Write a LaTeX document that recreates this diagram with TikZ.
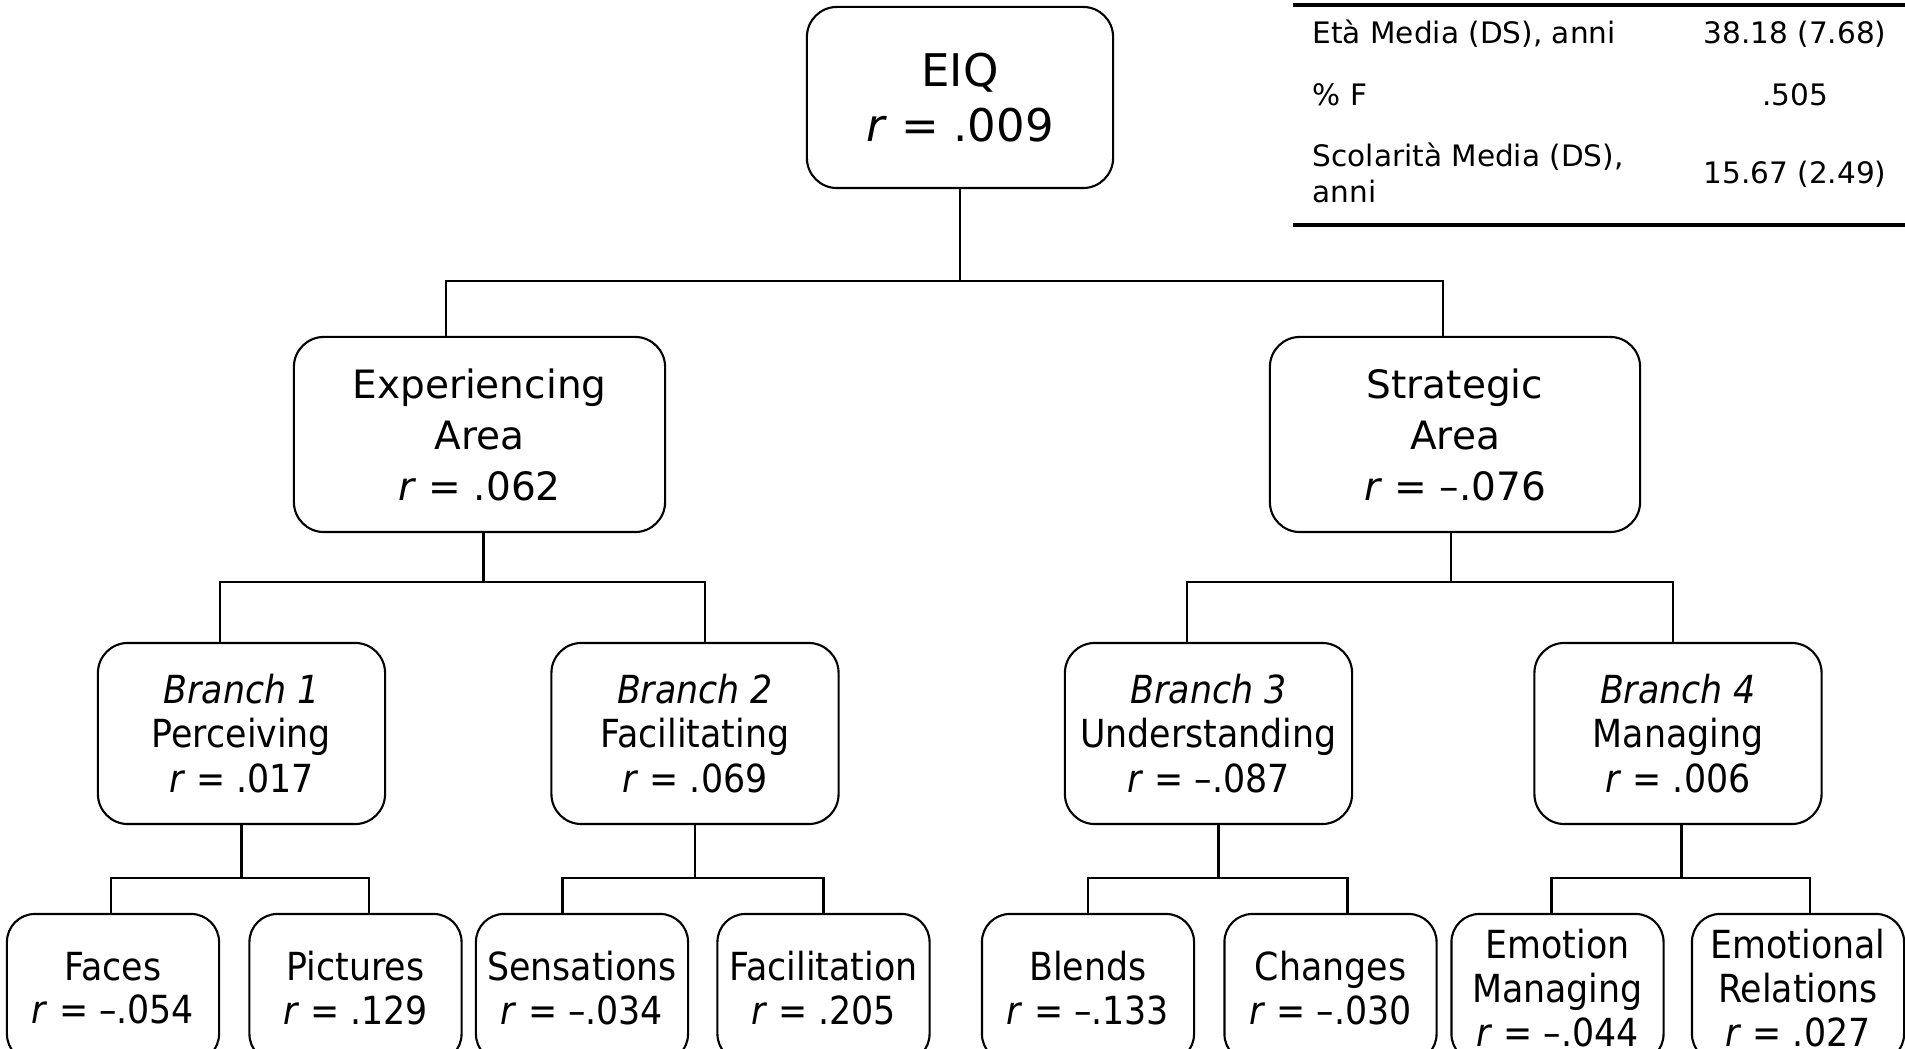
\documentclass[tikz,border=0pt]{standalone}
\usepackage{fontspec}
\setmainfont{DejaVu Sans}
\newfontfamily\cond{DejaVu Sans Condensed}
\usetikzlibrary{calc}
\tikzset{
  box/.style={draw, line width=0.6pt, rounded corners=0.3cm, align=center, inner sep=0pt, anchor=center},
  topbox/.style={box, font=\fontsize{12.8}{15.6}\selectfont},
  areabox/.style={box, font=\fontsize{11.1}{14.5}\selectfont},
  brbox/.style={box, rounded corners=0.3cm, font=\cond\fontsize{11}{12.6}\selectfont, minimum width=2.87cm, minimum height=1.81cm},
  leafbox/.style={box, rounded corners=0.28cm, font=\cond\fontsize{11}{12.4}\selectfont, minimum width=2.12cm, minimum height=1.48cm},
  conn/.style={line width=0.6pt},
  tabtxt/.style={font=\fontsize{8.4}{10.2}\selectfont, inner sep=0pt},
  rule/.style={line width=0.9pt}
}
\newcommand{\rr}{\textit{r}}
\begin{document}
\begin{tikzpicture}[x=0.01cm, y=-0.01cm]
\useasboundingbox (0,0) rectangle (1905,1049);
\clip (0,0) rectangle (1905,1049);

% top
\node[topbox, minimum width=3.06cm, minimum height=1.81cm] (eiq) at (960,97.5) {EIQ\\\rr{} = .009};

% areas
\node[areabox, minimum width=3.71cm, minimum height=1.95cm] (exp) at (479.5,434.5) {Experiencing\\Area\\\rr{} = .062};
\node[areabox, minimum width=3.70cm, minimum height=1.95cm] (str) at (1455,434.5) {Strategic\\Area\\\rr{} = –.076};

% branches
\node[brbox] (b1) at (241.5,733.5) {\textit{Branch 1}\\Perceiving\\\rr{} = .017};
\node[brbox] (b2) at (695,733.5) {\textit{Branch 2}\\Facilitating\\\rr{} = .069};
\node[brbox] (b3) at (1208.5,733.5) {\textit{Branch 3}\\Understanding\\\rr{} = –.087};
\node[brbox] (b4) at (1678,733.5) {\textit{Branch 4}\\Managing\\\rr{} = .006};

% leaves
\node[leafbox] (faces) at (113,988) {Faces\\\rr{} = –.054};
\node[leafbox] (pictures) at (355.5,988) {Pictures\\\rr{} = .129};
\node[leafbox] (sensations) at (582,988) {Sensations\\\rr{} = –.034};
\node[leafbox] (facilitation) at (823.5,988) {Facilitation\\\rr{} = .205};
\node[leafbox] (blends) at (1088,988) {Blends\\\rr{} = –.133};
\node[leafbox] (changes) at (1330.5,988) {Changes\\\rr{} = –.030};
\node[leafbox] (emman) at (1557.5,988) {Emotion\\Managing\\\rr{} = –.044};
\node[leafbox] (emrel) at (1798,988) {Emotional\\Relations\\\rr{} = .027};

% connectors level 1
\draw[conn] (eiq.south) -- ++(0,92) coordinate (j0);
\draw[conn] ($(exp.north)+(-33.5,0)$) |- (j0) -| ($(str.north)+(-12,0)$);

% level 2
\draw[conn] ($(exp.south)+(4,0)$) -- ++(0,49) coordinate (j1);
\draw[conn] ($(b1.north)+(-21.5,0)$) |- (j1) -| ($(b2.north)+(10,0)$);
\draw[conn] ($(str.south)+(-4,0)$) -- ++(0,49) coordinate (j2);
\draw[conn] ($(b3.north)+(-21.5,0)$) |- (j2) -| ($(b4.north)+(-5,0)$);

% level 3
\draw[conn] (b1.south) -- ++(0,53) coordinate (k1);
\draw[conn] ($(faces.north)+(-2,0)$) |- (k1) -| ($(pictures.north)+(13.5,0)$);
\draw[conn] (b2.south) -- ++(0,53) coordinate (k2);
\draw[conn] ($(sensations.north)+(-19.5,0)$) |- (k2) -| ($(facilitation.north)+(0,0)$);
\draw[conn] ($(b3.south)+(10,0)$) -- ++(0,53) coordinate (k3);
\draw[conn] ($(blends.north)+(0,0)$) |- (k3) -| ($(changes.north)+(17,0)$);
\draw[conn] ($(b4.south)+(3.5,0)$) -- ++(0,53) coordinate (k4);
\draw[conn] ($(emman.north)+(-6,0)$) |- (k4) -| ($(emrel.north)+(12,0)$);

% table
\draw[rule] (1293,5) -- (1905,5);
\draw[rule] (1293,225) -- (1905,225);
\node[tabtxt, anchor=west] (t1) at (1312,34) {Età Media (DS), anni};
\node[tabtxt] (v1) at (1795,34) {38.18 (7.68)};
\node[tabtxt, anchor=west] (t2) at (1312,95) {\% F};
\node[tabtxt] (v2) at (1795,95) {.505};
\node[tabtxt, anchor=west, align=left] (t3) at (1312,173) {Scolarità Media (DS),\\anni};
\node[tabtxt] (v3) at (1795,174) {15.67 (2.49)};
\end{tikzpicture}
\end{document}
